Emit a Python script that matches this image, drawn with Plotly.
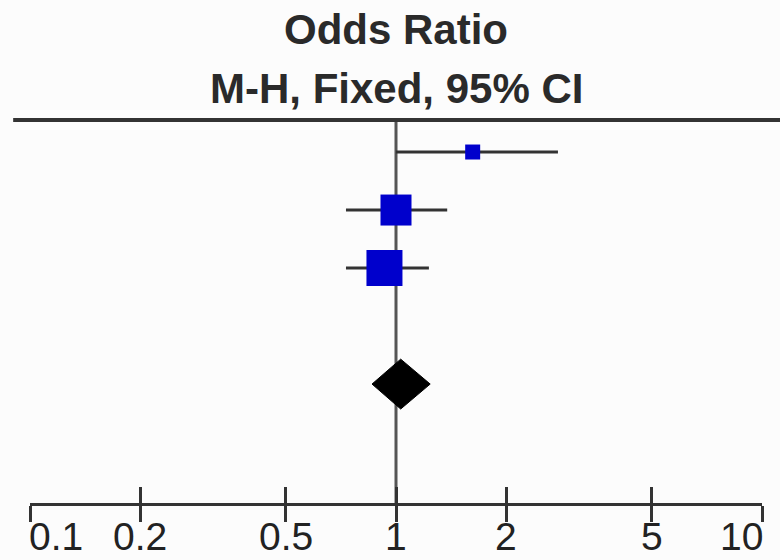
import math
import plotly.graph_objects as go

# Study-level odds ratios (M-H, fixed effect) with 95% confidence limits
study_rows = [1, 2, 3]
study_or = [1.62, 1.00, 0.93]
study_lo = [1.00, 0.73, 0.73]
study_hi = [2.77, 1.38, 1.23]
study_marker_px = [15, 31, 36]  # marker size reflects study weight

# Pooled estimate
pooled_row = 5
pooled_or = 1.03
pooled_lo = 0.86
pooled_hi = 1.24

tick_vals = [0.1, 0.2, 0.5, 1, 2, 5, 10]
tick_text = ["0.1", "0.2", "0.5", "1", "2", "5", "10"]

header_lines = ["Odds Ratio", "M-H, Fixed, 95% CI"]

INK = "#333333"
BLUE = "#0000CC"
FONT = "Liberation Sans Narrow, Arial Narrow, Liberation Sans, Arial, sans-serif"

W, H = 780, 560
M_L, M_R, M_T, M_B = 30, 18, 120, 57
plot_h = H - M_T - M_B

fig = go.Figure()

# Confidence interval whiskers
for r, lo, hi in zip(study_rows, study_lo, study_hi):
    fig.add_trace(go.Scatter(
        x=[lo, hi], y=[r, r], mode="lines",
        line=dict(color=INK, width=3), hoverinfo="skip", showlegend=False,
    ))

# Point estimates
fig.add_trace(go.Scatter(
    x=study_or, y=study_rows, mode="markers",
    marker=dict(symbol="square", size=study_marker_px, color=BLUE, opacity=1,
                line=dict(color=BLUE, width=0)),
    showlegend=False,
))

# Pooled diamond
half_h = 0.43
fig.add_trace(go.Scatter(
    x=[pooled_lo, pooled_or, pooled_hi, pooled_or, pooled_lo],
    y=[pooled_row, pooled_row - half_h, pooled_row, pooled_row + half_h, pooled_row],
    mode="lines", fill="toself", fillcolor="black",
    line=dict(color="black", width=1), showlegend=False,
))

# Line of no effect
fig.add_shape(type="line", xref="x", yref="paper", x0=1, x1=1, y0=0, y1=1,
              line=dict(color="#555555", width=3), layer="below")

# Header rule
fig.add_shape(type="line", xref="paper", yref="paper",
              x0=-0.023, x1=1.03, y0=1, y1=1,
              line=dict(color=INK, width=4))

# Header text
for i, txt in enumerate(header_lines):
    py = [30, 89][i]
    fig.add_annotation(
        text=f"<b>{txt}</b>", xref="paper", yref="paper",
        x=(396 - M_L) / (W - M_L - M_R), y=1 + (M_T - py) / plot_h,
        xanchor="center", yanchor="middle", showarrow=False,
        font=dict(family=FONT, size=42, color="#2a2a2a"),
    )

# Scale labels: end labels are kept inside the scale's extent
last = len(tick_vals) - 1
for i, (v, t) in enumerate(zip(tick_vals, tick_text)):
    anchor = "left" if i == 0 else ("right" if i == last else "center")
    fig.add_annotation(
        text=t, xref="x", yref="paper", x=math.log10(v),
        y=-(536 - (H - M_B)) / plot_h, xanchor=anchor, yanchor="middle",
        showarrow=False, borderpad=0,
        font=dict(family=FONT, size=39, color="#222222"),
        xshift=-2 if i == 0 else (2 if i == last else 0),
    )

axis_common = dict(
    type="log", range=[-1, 1], tickvals=tick_vals,
    showgrid=False, zeroline=False, automargin=False,
    ticklen=16, tickwidth=3, tickcolor=INK, showticklabels=False,
)

fig.update_layout(
    width=W, height=H,
    margin=dict(l=M_L, r=M_R, t=M_T, b=M_B, pad=0, autoexpand=False),
    paper_bgcolor="#fcfcfc", plot_bgcolor="#fcfcfc",
    xaxis=dict(**axis_common, ticks="outside",
               showline=True, linecolor=INK, linewidth=3),
    xaxis2=dict(**axis_common, overlaying="x", anchor="y", side="bottom",
                ticks="inside", showline=False),
    yaxis=dict(range=[7.05, 0.448], visible=False, showgrid=False,
               zeroline=False, automargin=False),
)

# Invisible trace so the upper tick set is drawn
fig.add_trace(go.Scatter(x=[1], y=[6], xaxis="x2", mode="markers",
                         marker=dict(opacity=0), hoverinfo="skip", showlegend=False))

fig.write_html("out.html")
